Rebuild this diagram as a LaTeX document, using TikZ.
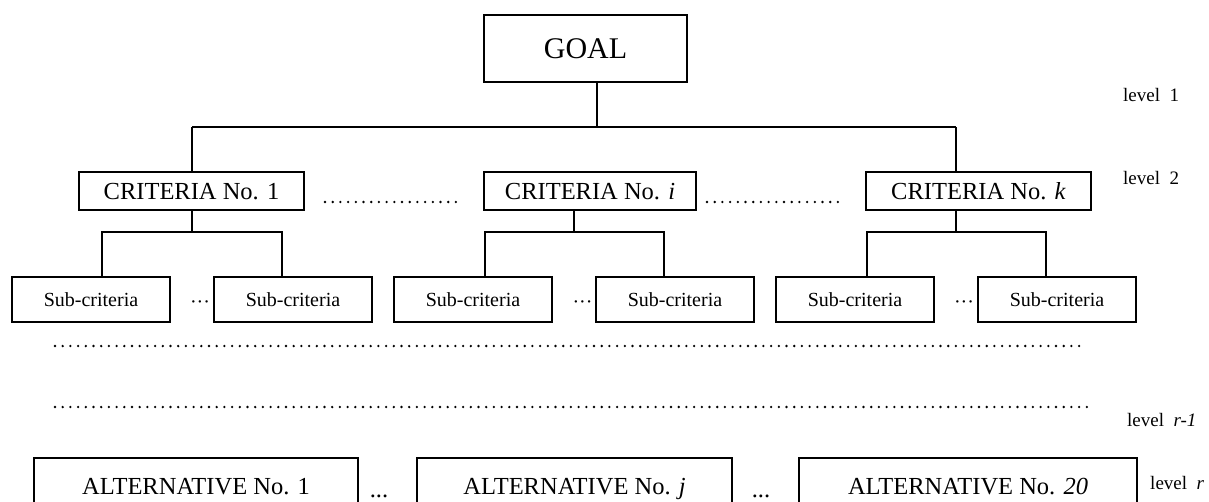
\documentclass[tikz,border=0pt]{standalone}
\usepackage{fontspec}
\setmainfont{Liberation Serif}
\begin{document}
\begin{tikzpicture}[x=1pt,y=-1pt,
  box/.style={draw,line width=1.5pt,inner sep=0pt,anchor=center,text depth=0pt},
  goalbox/.style={box,minimum width=203pt,minimum height=67pt,text height=19.8pt,font=\fontsize{30}{34}\selectfont},
  critbox/.style={box,minimum height=38pt,text height=16.2pt,font=\fontsize{24.5}{28}\selectfont},
  subbox/.style={box,minimum width=158pt,minimum height=45pt,text height=13.5pt,font=\fontsize{20}{24}\selectfont},
  altbox/.style={box,minimum height=56pt,text height=16.2pt,font=\fontsize{24.5}{28}\selectfont},
  wire/.style={line width=1.5pt},
  dotline/.style={line width=2.6pt,line cap=round,dash pattern=on 0pt off 7.7pt},
  lvl/.style={font=\fontsize{19}{22}\selectfont,anchor=west,inner sep=0pt},
  smalldots/.style={font=\fontsize{20}{24}\selectfont,inner sep=0pt,anchor=base},
  altdots/.style={font=\fontsize{24.5}{28}\selectfont,inner sep=0pt,anchor=base}]
\useasboundingbox (0,0) rectangle (1209,501);
\clip (0,0) rectangle (1209,501);

% nodes
\node[goalbox] (goal) at (585.5,48.5) {GOAL};
\node[critbox,minimum width=225pt] (c1) at (191.5,191) {CRITERIA No. 1};
\node[critbox,minimum width=212pt] (ci) at (590,191) {CRITERIA No. \textit{i}};
\node[critbox,minimum width=225pt] (ck) at (978.5,191) {CRITERIA No. \textit{k}};

\node[subbox] (s1) at (91,299.5) {Sub-criteria};
\node[subbox] (s2) at (293,299.5) {Sub-criteria};
\node[subbox] (s3) at (473,299.5) {Sub-criteria};
\node[subbox] (s4) at (675,299.5) {Sub-criteria};
\node[subbox] (s5) at (855,299.5) {Sub-criteria};
\node[subbox] (s6) at (1057,299.5) {Sub-criteria};

\node[smalldots] (sd1) at (200,308.5) {···};
\node[smalldots] (sd2) at (582.5,308.5) {···};
\node[smalldots] (sd3) at (964,308.5) {···};

\node[altbox,minimum width=324pt] (a1) at (196,486) {ALTERNATIVE No. 1};
\node[altbox,minimum width=315pt] (aj) at (574.5,486) {ALTERNATIVE No. \textit{j}};
\node[altbox,minimum width=338pt] (a20) at (968,486) {ALTERNATIVE No. \textit{20}};

\node[altdots] (ad1) at (379,497) {...};
\node[altdots] (ad2) at (761,497) {...};

\node[lvl] (l1) at (1123,95) {level\ \ 1};
\node[lvl] (l2) at (1123,178) {level\ \ 2};
\node[lvl] (lr1) at (1127,420) {level\ \ \textit{r-1}};
\node[lvl] (lr) at (1150,483) {level\ \ \textit{r}};

% connectors
\coordinate (gb) at (597,127);
\coordinate (busL) at (192,127);
\coordinate (busR) at (956,127);
\draw[wire] (goal.south -| gb) -- (gb);
\draw[wire] (busL) -- (busR);
\draw[wire] (busL) -- (c1.north -| busL);
\draw[wire] (busR) -- (ck.north -| busR);

\coordinate (m1) at (192,232);
\coordinate (m1a) at (102,232);
\coordinate (m1b) at (282,232);
\draw[wire] (c1.south -| m1) -- (m1);
\draw[wire] (s1.north -| m1a) -- (m1a) -- (m1b) -- (s2.north -| m1b);

\coordinate (mi) at (574,232);
\coordinate (mia) at (485,232);
\coordinate (mib) at (664,232);
\draw[wire] (ci.south -| mi) -- (mi);
\draw[wire] (s3.north -| mia) -- (mia) -- (mib) -- (s4.north -| mib);

\coordinate (mk) at (956,232);
\coordinate (mka) at (867,232);
\coordinate (mkb) at (1046,232);
\draw[wire] (ck.south -| mk) -- (mk);
\draw[wire] (s5.north -| mka) -- (mka) -- (mkb) -- (s6.north -| mkb);

% dotted lines
\coordinate (d1a) at (325,202); \coordinate (d1b) at (456,202);
\coordinate (d2a) at (707,202); \coordinate (d2b) at (838,202);
\coordinate (d3a) at (55,346);  \coordinate (d3b) at (1086,346);
\coordinate (d4a) at (55,407);  \coordinate (d4b) at (1093,407);
\draw[dotline] (d1a) -- (d1b);
\draw[dotline] (d2a) -- (d2b);
\draw[dotline] (d3a) -- (d3b);
\draw[dotline] (d4a) -- (d4b);
\end{tikzpicture}
\end{document}
